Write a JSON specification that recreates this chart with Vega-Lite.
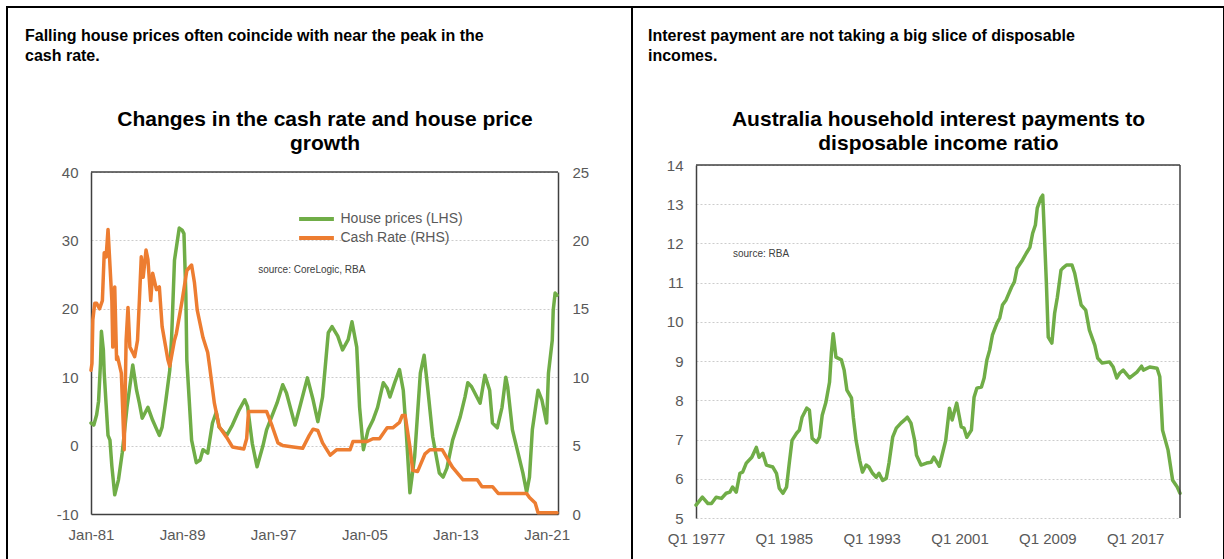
{
  "$schema": "https://vega.github.io/schema/vega-lite/v6.json",
  "padding": {"left": 6, "top": 6, "right": 0, "bottom": 0},
  "background": "white",
  "spacing": 0,
  "bounds": "flush",
  "config": {
    "font": "Liberation Sans",
    "view": {"stroke": "black", "strokeWidth": 2},
    "axis": {"labelFont": "Liberation Sans", "labelFontSize": 15, "labelColor": "#595959", "ticks": false, "grid": false, "domainColor": "#404040", "domainWidth": 1.5, "labelPadding": 12, "titleFont": "Liberation Sans"},
    "legend": {"labelFont": "Liberation Sans"}
  },
  "datasets": {
    "left": [
      {"date": "1981-01-01", "value": 3.3, "series": "House prices (LHS)"},
      {"date": "1981-04-01", "value": 3.0, "series": "House prices (LHS)"},
      {"date": "1981-07-01", "value": 4.5, "series": "House prices (LHS)"},
      {"date": "1981-09-01", "value": 6.5, "series": "House prices (LHS)"},
      {"date": "1981-11-01", "value": 12.0, "series": "House prices (LHS)"},
      {"date": "1981-12-01", "value": 16.7, "series": "House prices (LHS)"},
      {"date": "1982-02-01", "value": 14.0, "series": "House prices (LHS)"},
      {"date": "1982-03-01", "value": 10.6, "series": "House prices (LHS)"},
      {"date": "1982-05-01", "value": 6.0, "series": "House prices (LHS)"},
      {"date": "1982-07-01", "value": 1.5, "series": "House prices (LHS)"},
      {"date": "1982-09-01", "value": 0.8, "series": "House prices (LHS)"},
      {"date": "1982-11-01", "value": -3.0, "series": "House prices (LHS)"},
      {"date": "1983-02-01", "value": -7.2, "series": "House prices (LHS)"},
      {"date": "1983-06-01", "value": -5.0, "series": "House prices (LHS)"},
      {"date": "1983-10-01", "value": -1.0, "series": "House prices (LHS)"},
      {"date": "1984-03-01", "value": 5.6, "series": "House prices (LHS)"},
      {"date": "1984-09-01", "value": 11.8, "series": "House prices (LHS)"},
      {"date": "1985-01-01", "value": 8.1, "series": "House prices (LHS)"},
      {"date": "1985-04-01", "value": 6.2, "series": "House prices (LHS)"},
      {"date": "1985-07-01", "value": 4.0, "series": "House prices (LHS)"},
      {"date": "1986-01-01", "value": 5.6, "series": "House prices (LHS)"},
      {"date": "1986-06-01", "value": 3.7, "series": "House prices (LHS)"},
      {"date": "1987-01-01", "value": 1.5, "series": "House prices (LHS)"},
      {"date": "1987-04-01", "value": 2.7, "series": "House prices (LHS)"},
      {"date": "1987-08-01", "value": 6.7, "series": "House prices (LHS)"},
      {"date": "1987-12-01", "value": 11.0, "series": "House prices (LHS)"},
      {"date": "1988-02-01", "value": 16.0, "series": "House prices (LHS)"},
      {"date": "1988-05-01", "value": 27.1, "series": "House prices (LHS)"},
      {"date": "1988-10-01", "value": 31.8, "series": "House prices (LHS)"},
      {"date": "1989-01-01", "value": 31.5, "series": "House prices (LHS)"},
      {"date": "1989-03-01", "value": 31.0, "series": "House prices (LHS)"},
      {"date": "1989-05-01", "value": 22.0, "series": "House prices (LHS)"},
      {"date": "1989-06-01", "value": 12.5, "series": "House prices (LHS)"},
      {"date": "1989-11-01", "value": 0.8, "series": "House prices (LHS)"},
      {"date": "1990-04-01", "value": -2.5, "series": "House prices (LHS)"},
      {"date": "1990-08-01", "value": -2.1, "series": "House prices (LHS)"},
      {"date": "1990-11-01", "value": -0.6, "series": "House prices (LHS)"},
      {"date": "1991-04-01", "value": -1.1, "series": "House prices (LHS)"},
      {"date": "1991-09-01", "value": 3.3, "series": "House prices (LHS)"},
      {"date": "1992-01-01", "value": 4.9, "series": "House prices (LHS)"},
      {"date": "1992-04-01", "value": 2.7, "series": "House prices (LHS)"},
      {"date": "1992-12-01", "value": 1.5, "series": "House prices (LHS)"},
      {"date": "1993-06-01", "value": 3.0, "series": "House prices (LHS)"},
      {"date": "1994-01-01", "value": 5.2, "series": "House prices (LHS)"},
      {"date": "1994-07-01", "value": 6.7, "series": "House prices (LHS)"},
      {"date": "1994-10-01", "value": 5.7, "series": "House prices (LHS)"},
      {"date": "1995-03-01", "value": 0.3, "series": "House prices (LHS)"},
      {"date": "1995-08-01", "value": -3.1, "series": "House prices (LHS)"},
      {"date": "1996-02-01", "value": -0.1, "series": "House prices (LHS)"},
      {"date": "1996-06-01", "value": 2.3, "series": "House prices (LHS)"},
      {"date": "1997-05-01", "value": 6.2, "series": "House prices (LHS)"},
      {"date": "1997-11-01", "value": 8.9, "series": "House prices (LHS)"},
      {"date": "1998-03-01", "value": 7.7, "series": "House prices (LHS)"},
      {"date": "1998-12-01", "value": 3.0, "series": "House prices (LHS)"},
      {"date": "1999-05-01", "value": 5.6, "series": "House prices (LHS)"},
      {"date": "2000-01-01", "value": 9.9, "series": "House prices (LHS)"},
      {"date": "2000-07-01", "value": 6.7, "series": "House prices (LHS)"},
      {"date": "2000-12-01", "value": 3.5, "series": "House prices (LHS)"},
      {"date": "2001-05-01", "value": 7.1, "series": "House prices (LHS)"},
      {"date": "2001-11-01", "value": 16.5, "series": "House prices (LHS)"},
      {"date": "2002-03-01", "value": 17.4, "series": "House prices (LHS)"},
      {"date": "2002-09-01", "value": 16.0, "series": "House prices (LHS)"},
      {"date": "2003-02-01", "value": 14.0, "series": "House prices (LHS)"},
      {"date": "2003-08-01", "value": 15.5, "series": "House prices (LHS)"},
      {"date": "2003-12-01", "value": 18.1, "series": "House prices (LHS)"},
      {"date": "2004-05-01", "value": 14.4, "series": "House prices (LHS)"},
      {"date": "2004-08-01", "value": 5.6, "series": "House prices (LHS)"},
      {"date": "2004-12-01", "value": -0.6, "series": "House prices (LHS)"},
      {"date": "2005-05-01", "value": 2.3, "series": "House prices (LHS)"},
      {"date": "2005-10-01", "value": 3.7, "series": "House prices (LHS)"},
      {"date": "2006-03-01", "value": 5.6, "series": "House prices (LHS)"},
      {"date": "2006-09-01", "value": 9.2, "series": "House prices (LHS)"},
      {"date": "2007-01-01", "value": 8.4, "series": "House prices (LHS)"},
      {"date": "2007-04-01", "value": 7.1, "series": "House prices (LHS)"},
      {"date": "2007-09-01", "value": 9.2, "series": "House prices (LHS)"},
      {"date": "2008-02-01", "value": 11.1, "series": "House prices (LHS)"},
      {"date": "2008-06-01", "value": 8.1, "series": "House prices (LHS)"},
      {"date": "2008-09-01", "value": 2.3, "series": "House prices (LHS)"},
      {"date": "2009-01-01", "value": -6.9, "series": "House prices (LHS)"},
      {"date": "2009-06-01", "value": -1.6, "series": "House prices (LHS)"},
      {"date": "2009-12-01", "value": 10.6, "series": "House prices (LHS)"},
      {"date": "2010-04-01", "value": 13.2, "series": "House prices (LHS)"},
      {"date": "2010-08-01", "value": 8.1, "series": "House prices (LHS)"},
      {"date": "2011-01-01", "value": 1.3, "series": "House prices (LHS)"},
      {"date": "2011-08-01", "value": -4.0, "series": "House prices (LHS)"},
      {"date": "2011-12-01", "value": -4.6, "series": "House prices (LHS)"},
      {"date": "2012-04-01", "value": -3.3, "series": "House prices (LHS)"},
      {"date": "2012-10-01", "value": 0.8, "series": "House prices (LHS)"},
      {"date": "2013-06-01", "value": 4.2, "series": "House prices (LHS)"},
      {"date": "2013-11-01", "value": 7.1, "series": "House prices (LHS)"},
      {"date": "2014-02-01", "value": 9.2, "series": "House prices (LHS)"},
      {"date": "2014-06-01", "value": 8.6, "series": "House prices (LHS)"},
      {"date": "2015-03-01", "value": 6.2, "series": "House prices (LHS)"},
      {"date": "2015-08-01", "value": 10.3, "series": "House prices (LHS)"},
      {"date": "2016-01-01", "value": 8.1, "series": "House prices (LHS)"},
      {"date": "2016-04-01", "value": 3.3, "series": "House prices (LHS)"},
      {"date": "2016-09-01", "value": 2.6, "series": "House prices (LHS)"},
      {"date": "2017-02-01", "value": 5.6, "series": "House prices (LHS)"},
      {"date": "2017-06-01", "value": 10.0, "series": "House prices (LHS)"},
      {"date": "2017-08-01", "value": 8.6, "series": "House prices (LHS)"},
      {"date": "2018-01-01", "value": 2.3, "series": "House prices (LHS)"},
      {"date": "2018-07-01", "value": -1.1, "series": "House prices (LHS)"},
      {"date": "2018-12-01", "value": -4.0, "series": "House prices (LHS)"},
      {"date": "2019-04-01", "value": -6.8, "series": "House prices (LHS)"},
      {"date": "2019-07-01", "value": -4.6, "series": "House prices (LHS)"},
      {"date": "2019-10-01", "value": 2.3, "series": "House prices (LHS)"},
      {"date": "2020-04-01", "value": 8.1, "series": "House prices (LHS)"},
      {"date": "2020-08-01", "value": 6.7, "series": "House prices (LHS)"},
      {"date": "2021-01-01", "value": 3.3, "series": "House prices (LHS)"},
      {"date": "2021-03-01", "value": 10.6, "series": "House prices (LHS)"},
      {"date": "2021-07-01", "value": 15.4, "series": "House prices (LHS)"},
      {"date": "2021-08-01", "value": 19.8, "series": "House prices (LHS)"},
      {"date": "2021-10-01", "value": 22.3, "series": "House prices (LHS)"},
      {"date": "2021-12-01", "value": 22.0, "series": "House prices (LHS)"},
      {"date": "1981-01-01", "value": 10.5, "series": "Cash Rate (RHS)"},
      {"date": "1981-02-01", "value": 11.0, "series": "Cash Rate (RHS)"},
      {"date": "1981-03-01", "value": 14.2, "series": "Cash Rate (RHS)"},
      {"date": "1981-05-01", "value": 15.4, "series": "Cash Rate (RHS)"},
      {"date": "1981-07-01", "value": 15.4, "series": "Cash Rate (RHS)"},
      {"date": "1981-10-01", "value": 15.0, "series": "Cash Rate (RHS)"},
      {"date": "1982-01-01", "value": 15.6, "series": "Cash Rate (RHS)"},
      {"date": "1982-03-01", "value": 19.1, "series": "Cash Rate (RHS)"},
      {"date": "1982-05-01", "value": 18.8, "series": "Cash Rate (RHS)"},
      {"date": "1982-07-01", "value": 20.8, "series": "Cash Rate (RHS)"},
      {"date": "1982-11-01", "value": 15.6, "series": "Cash Rate (RHS)"},
      {"date": "1982-12-01", "value": 12.2, "series": "Cash Rate (RHS)"},
      {"date": "1983-02-01", "value": 16.6, "series": "Cash Rate (RHS)"},
      {"date": "1983-04-01", "value": 11.3, "series": "Cash Rate (RHS)"},
      {"date": "1983-05-01", "value": 11.5, "series": "Cash Rate (RHS)"},
      {"date": "1983-09-01", "value": 10.3, "series": "Cash Rate (RHS)"},
      {"date": "1983-12-01", "value": 4.7, "series": "Cash Rate (RHS)"},
      {"date": "1984-02-01", "value": 12.7, "series": "Cash Rate (RHS)"},
      {"date": "1984-04-01", "value": 15.1, "series": "Cash Rate (RHS)"},
      {"date": "1984-06-01", "value": 12.2, "series": "Cash Rate (RHS)"},
      {"date": "1984-09-01", "value": 11.8, "series": "Cash Rate (RHS)"},
      {"date": "1984-11-01", "value": 11.5, "series": "Cash Rate (RHS)"},
      {"date": "1985-02-01", "value": 12.7, "series": "Cash Rate (RHS)"},
      {"date": "1985-04-01", "value": 15.6, "series": "Cash Rate (RHS)"},
      {"date": "1985-06-01", "value": 18.8, "series": "Cash Rate (RHS)"},
      {"date": "1985-08-01", "value": 17.3, "series": "Cash Rate (RHS)"},
      {"date": "1985-11-01", "value": 19.3, "series": "Cash Rate (RHS)"},
      {"date": "1986-01-01", "value": 18.6, "series": "Cash Rate (RHS)"},
      {"date": "1986-04-01", "value": 15.6, "series": "Cash Rate (RHS)"},
      {"date": "1986-06-01", "value": 17.6, "series": "Cash Rate (RHS)"},
      {"date": "1986-10-01", "value": 16.4, "series": "Cash Rate (RHS)"},
      {"date": "1987-01-01", "value": 16.6, "series": "Cash Rate (RHS)"},
      {"date": "1987-04-01", "value": 13.7, "series": "Cash Rate (RHS)"},
      {"date": "1987-10-01", "value": 11.3, "series": "Cash Rate (RHS)"},
      {"date": "1987-12-01", "value": 10.8, "series": "Cash Rate (RHS)"},
      {"date": "1988-05-01", "value": 12.7, "series": "Cash Rate (RHS)"},
      {"date": "1988-07-01", "value": 13.2, "series": "Cash Rate (RHS)"},
      {"date": "1989-01-01", "value": 15.6, "series": "Cash Rate (RHS)"},
      {"date": "1989-06-01", "value": 17.8, "series": "Cash Rate (RHS)"},
      {"date": "1989-11-01", "value": 18.2, "series": "Cash Rate (RHS)"},
      {"date": "1990-02-01", "value": 16.9, "series": "Cash Rate (RHS)"},
      {"date": "1990-05-01", "value": 14.9, "series": "Cash Rate (RHS)"},
      {"date": "1990-11-01", "value": 12.9, "series": "Cash Rate (RHS)"},
      {"date": "1991-04-01", "value": 11.8, "series": "Cash Rate (RHS)"},
      {"date": "1991-06-01", "value": 10.8, "series": "Cash Rate (RHS)"},
      {"date": "1991-11-01", "value": 8.1, "series": "Cash Rate (RHS)"},
      {"date": "1992-04-01", "value": 6.4, "series": "Cash Rate (RHS)"},
      {"date": "1992-12-01", "value": 5.6, "series": "Cash Rate (RHS)"},
      {"date": "1993-06-01", "value": 4.9, "series": "Cash Rate (RHS)"},
      {"date": "1994-06-01", "value": 4.75, "series": "Cash Rate (RHS)"},
      {"date": "1994-09-01", "value": 5.5, "series": "Cash Rate (RHS)"},
      {"date": "1994-11-01", "value": 7.5, "series": "Cash Rate (RHS)"},
      {"date": "1996-06-01", "value": 7.5, "series": "Cash Rate (RHS)"},
      {"date": "1996-12-01", "value": 6.4, "series": "Cash Rate (RHS)"},
      {"date": "1997-06-01", "value": 5.2, "series": "Cash Rate (RHS)"},
      {"date": "1997-11-01", "value": 5.0, "series": "Cash Rate (RHS)"},
      {"date": "1998-10-01", "value": 4.9, "series": "Cash Rate (RHS)"},
      {"date": "1999-08-01", "value": 4.8, "series": "Cash Rate (RHS)"},
      {"date": "2000-03-01", "value": 5.75, "series": "Cash Rate (RHS)"},
      {"date": "2000-07-01", "value": 6.2, "series": "Cash Rate (RHS)"},
      {"date": "2000-12-01", "value": 6.1, "series": "Cash Rate (RHS)"},
      {"date": "2001-05-01", "value": 5.2, "series": "Cash Rate (RHS)"},
      {"date": "2002-01-01", "value": 4.3, "series": "Cash Rate (RHS)"},
      {"date": "2002-08-01", "value": 4.7, "series": "Cash Rate (RHS)"},
      {"date": "2003-10-01", "value": 4.7, "series": "Cash Rate (RHS)"},
      {"date": "2004-01-01", "value": 5.3, "series": "Cash Rate (RHS)"},
      {"date": "2005-04-01", "value": 5.3, "series": "Cash Rate (RHS)"},
      {"date": "2005-10-01", "value": 5.5, "series": "Cash Rate (RHS)"},
      {"date": "2006-05-01", "value": 5.5, "series": "Cash Rate (RHS)"},
      {"date": "2007-01-01", "value": 6.3, "series": "Cash Rate (RHS)"},
      {"date": "2007-07-01", "value": 6.3, "series": "Cash Rate (RHS)"},
      {"date": "2008-02-01", "value": 6.7, "series": "Cash Rate (RHS)"},
      {"date": "2008-05-01", "value": 7.2, "series": "Cash Rate (RHS)"},
      {"date": "2008-08-01", "value": 7.2, "series": "Cash Rate (RHS)"},
      {"date": "2009-01-01", "value": 4.9, "series": "Cash Rate (RHS)"},
      {"date": "2009-04-01", "value": 3.2, "series": "Cash Rate (RHS)"},
      {"date": "2009-09-01", "value": 3.1, "series": "Cash Rate (RHS)"},
      {"date": "2010-05-01", "value": 4.4, "series": "Cash Rate (RHS)"},
      {"date": "2010-10-01", "value": 4.7, "series": "Cash Rate (RHS)"},
      {"date": "2011-11-01", "value": 4.7, "series": "Cash Rate (RHS)"},
      {"date": "2012-04-01", "value": 4.1, "series": "Cash Rate (RHS)"},
      {"date": "2012-10-01", "value": 3.4, "series": "Cash Rate (RHS)"},
      {"date": "2013-09-01", "value": 2.5, "series": "Cash Rate (RHS)"},
      {"date": "2014-12-01", "value": 2.5, "series": "Cash Rate (RHS)"},
      {"date": "2015-05-01", "value": 2.0, "series": "Cash Rate (RHS)"},
      {"date": "2016-04-01", "value": 2.0, "series": "Cash Rate (RHS)"},
      {"date": "2016-10-01", "value": 1.5, "series": "Cash Rate (RHS)"},
      {"date": "2019-04-01", "value": 1.5, "series": "Cash Rate (RHS)"},
      {"date": "2019-07-01", "value": 1.2, "series": "Cash Rate (RHS)"},
      {"date": "2020-01-01", "value": 0.8, "series": "Cash Rate (RHS)"},
      {"date": "2020-04-01", "value": 0.1, "series": "Cash Rate (RHS)"},
      {"date": "2021-12-01", "value": 0.1, "series": "Cash Rate (RHS)"}
    ],
    "ratio": [
      {"date": "1977-01-01", "value": 5.33}, {"date": "1977-08-01", "value": 5.53}, {"date": "1978-02-01", "value": 5.37},
      {"date": "1978-06-01", "value": 5.37}, {"date": "1978-11-01", "value": 5.53}, {"date": "1979-05-01", "value": 5.5},
      {"date": "1979-10-01", "value": 5.63}, {"date": "1980-02-01", "value": 5.66}, {"date": "1980-05-01", "value": 5.79},
      {"date": "1980-09-01", "value": 5.66}, {"date": "1981-01-01", "value": 6.14}, {"date": "1981-04-01", "value": 6.17},
      {"date": "1981-08-01", "value": 6.4}, {"date": "1982-02-01", "value": 6.55}, {"date": "1982-07-01", "value": 6.8},
      {"date": "1982-10-01", "value": 6.55}, {"date": "1983-02-01", "value": 6.65}, {"date": "1983-06-01", "value": 6.35},
      {"date": "1984-01-01", "value": 6.3}, {"date": "1984-05-01", "value": 6.14}, {"date": "1984-08-01", "value": 5.76},
      {"date": "1984-12-01", "value": 5.63}, {"date": "1985-04-01", "value": 5.79}, {"date": "1985-07-01", "value": 6.4},
      {"date": "1985-10-01", "value": 6.98}, {"date": "1986-03-01", "value": 7.16}, {"date": "1986-06-01", "value": 7.24},
      {"date": "1986-09-01", "value": 7.57}, {"date": "1987-02-01", "value": 7.8}, {"date": "1987-05-01", "value": 7.75},
      {"date": "1987-08-01", "value": 7.03}, {"date": "1988-01-01", "value": 6.93}, {"date": "1988-04-01", "value": 7.06},
      {"date": "1988-07-01", "value": 7.62}, {"date": "1988-11-01", "value": 7.95}, {"date": "1989-03-01", "value": 8.46},
      {"date": "1989-05-01", "value": 9.2}, {"date": "1989-07-01", "value": 9.7}, {"date": "1989-10-01", "value": 9.1},
      {"date": "1990-04-01", "value": 9.03}, {"date": "1990-07-01", "value": 8.77}, {"date": "1990-10-01", "value": 8.26},
      {"date": "1991-03-01", "value": 8.06}, {"date": "1991-05-01", "value": 7.57}, {"date": "1991-08-01", "value": 6.98},
      {"date": "1991-12-01", "value": 6.47}, {"date": "1992-03-01", "value": 6.17}, {"date": "1992-07-01", "value": 6.35},
      {"date": "1992-10-01", "value": 6.3}, {"date": "1993-02-01", "value": 6.14}, {"date": "1993-06-01", "value": 6.04},
      {"date": "1993-09-01", "value": 6.14}, {"date": "1994-01-01", "value": 5.96}, {"date": "1994-05-01", "value": 6.01},
      {"date": "1994-08-01", "value": 6.4}, {"date": "1994-12-01", "value": 7.06}, {"date": "1995-04-01", "value": 7.29},
      {"date": "1995-09-01", "value": 7.42}, {"date": "1996-01-01", "value": 7.5}, {"date": "1996-04-01", "value": 7.57},
      {"date": "1996-08-01", "value": 7.42}, {"date": "1996-12-01", "value": 6.98}, {"date": "1997-02-01", "value": 6.6},
      {"date": "1997-07-01", "value": 6.35}, {"date": "1998-01-01", "value": 6.4}, {"date": "1998-06-01", "value": 6.42},
      {"date": "1998-09-01", "value": 6.55}, {"date": "1999-03-01", "value": 6.32}, {"date": "1999-06-01", "value": 6.6},
      {"date": "1999-10-01", "value": 6.98}, {"date": "2000-02-01", "value": 7.8}, {"date": "2000-05-01", "value": 7.5},
      {"date": "2000-10-01", "value": 7.93}, {"date": "2001-03-01", "value": 7.32}, {"date": "2001-06-01", "value": 7.29},
      {"date": "2001-09-01", "value": 7.06}, {"date": "2002-02-01", "value": 7.24}, {"date": "2002-05-01", "value": 8.08},
      {"date": "2002-08-01", "value": 8.31}, {"date": "2003-01-01", "value": 8.34}, {"date": "2003-04-01", "value": 8.57},
      {"date": "2003-07-01", "value": 9.03}, {"date": "2003-10-01", "value": 9.28}, {"date": "2004-01-01", "value": 9.66},
      {"date": "2004-06-01", "value": 9.97}, {"date": "2004-09-01", "value": 10.1}, {"date": "2004-12-01", "value": 10.43},
      {"date": "2005-04-01", "value": 10.56}, {"date": "2005-10-01", "value": 10.89}, {"date": "2006-01-01", "value": 11.02},
      {"date": "2006-04-01", "value": 11.37}, {"date": "2006-10-01", "value": 11.58}, {"date": "2007-02-01", "value": 11.75},
      {"date": "2007-06-01", "value": 11.9}, {"date": "2007-09-01", "value": 12.26}, {"date": "2007-12-01", "value": 12.47},
      {"date": "2008-02-01", "value": 12.9}, {"date": "2008-06-01", "value": 13.16}, {"date": "2008-08-01", "value": 13.23},
      {"date": "2008-09-01", "value": 12.67}, {"date": "2008-12-01", "value": 10.99}, {"date": "2009-02-01", "value": 9.61},
      {"date": "2009-06-01", "value": 9.46}, {"date": "2009-09-01", "value": 10.22}, {"date": "2009-12-01", "value": 10.63},
      {"date": "2010-04-01", "value": 11.32}, {"date": "2010-06-01", "value": 11.37}, {"date": "2010-10-01", "value": 11.45},
      {"date": "2011-04-01", "value": 11.45}, {"date": "2011-07-01", "value": 11.24}, {"date": "2011-10-01", "value": 10.89},
      {"date": "2012-02-01", "value": 10.43}, {"date": "2012-07-01", "value": 10.3}, {"date": "2012-11-01", "value": 9.79},
      {"date": "2013-05-01", "value": 9.4}, {"date": "2013-08-01", "value": 9.08}, {"date": "2014-01-01", "value": 8.95},
      {"date": "2014-09-01", "value": 8.98}, {"date": "2015-01-01", "value": 8.85}, {"date": "2015-05-01", "value": 8.57},
      {"date": "2015-08-01", "value": 8.69}, {"date": "2015-12-01", "value": 8.77}, {"date": "2016-07-01", "value": 8.57},
      {"date": "2017-03-01", "value": 8.72}, {"date": "2017-08-01", "value": 8.87}, {"date": "2017-10-01", "value": 8.77},
      {"date": "2018-05-01", "value": 8.85}, {"date": "2019-01-01", "value": 8.82}, {"date": "2019-04-01", "value": 8.6},
      {"date": "2019-07-01", "value": 7.24}, {"date": "2020-01-01", "value": 6.73}, {"date": "2020-06-01", "value": 5.96},
      {"date": "2020-11-01", "value": 5.79}, {"date": "2021-02-01", "value": 5.63}
    ]
  },
  "hconcat": [
    {
      "width": 625,
      "height": 553,
      "title": {
        "text": ["Falling house prices often coincide with near the peak in the", "cash rate."],
        "anchor": "start", "frame": "group", "fontSize": 16, "fontWeight": "bold", "color": "black",
        "font": "Liberation Sans", "lineHeight": 20, "offset": -57, "dx": 18
      },
      "layer": [
        {
          "layer": [
            {
              "data": {"name": "left"},
              "transform": [{"filter": "datum.series === 'House prices (LHS)'"}],
              "mark": {"type": "line", "strokeWidth": 3.5, "strokeJoin": "round", "strokeCap": "round"},
              "encoding": {
                "x": {
                  "field": "date", "type": "temporal",
                  "scale": {"domain": [{"year": 1981, "month": 1, "date": 1, "utc": true}, {"year": 2022, "month": 1, "date": 1, "utc": true}], "range": [84, 551], "nice": false},
                  "axis": {
                    "values": [{"year": 1981, "month": 1, "date": 1, "utc": true}, {"year": 1989, "month": 1, "date": 1, "utc": true}, {"year": 1997, "month": 1, "date": 1, "utc": true}, {"year": 2005, "month": 1, "date": 1, "utc": true}, {"year": 2013, "month": 1, "date": 1, "utc": true}, {"year": 2021, "month": 1, "date": 1, "utc": true}],
                    "labelExpr": "'Jan-' + utcFormat(datum.value, '%y')",
                    "offset": -46, "labelPadding": 13, "labelFlush": false, "labelOverlap": false,
                    "title": ["Changes in the cash rate and house price", "growth"],
                    "titleX": 317.5, "titleY": -389, "titleAlign": "center", "titleAnchor": "middle", "titleBaseline": "alphabetic", "titleAngle": 0,
                    "titleFontSize": 21, "titleFontWeight": "bold", "titleColor": "black", "titleLineHeight": 24
                  }
                },
                "y": {
                  "field": "value", "type": "quantitative",
                  "scale": {"domain": [-10, 40], "range": [507, 165], "nice": false, "zero": false},
                  "axis": {"orient": "left", "offset": -84, "values": [-10, 0, 10, 20, 30, 40], "labelExpr": "datum.value + ''", "grid": true, "gridColor": "#cccccc", "gridDash": [2, 2], "gridWidth": 1, "labelPadding": 13, "title": null}
                },
                "color": {
                  "field": "series", "type": "nominal",
                  "scale": {"domain": ["House prices (LHS)", "Cash Rate (RHS)"], "range": ["#70AD47", "#ED7D31"]},
                  "legend": {"orient": "none", "legendX": 301.5, "legendY": 204, "title": null, "symbolType": "M-2.9,0H2.9", "symbolSize": 144, "symbolStrokeWidth": 4, "symbolFillColor": "transparent", "labelFontSize": 14, "labelColor": "#595959", "labelOffset": 16, "rowPadding": 3, "padding": 0}
                }
              }
            },
            {
              "data": {"values": [{}]},
              "mark": {"type": "rule", "color": "#404040", "strokeWidth": 1.5},
              "encoding": {
                "x": {"datum": {"year": 1981, "month": 1, "date": 1, "utc": true}, "type": "temporal"},
                "x2": {"datum": {"year": 2022, "month": 1, "date": 1, "utc": true}},
                "y": {"datum": 40, "type": "quantitative"}
              }
            },
            {
              "data": {"values": [{}]},
              "mark": {"type": "text", "align": "left", "baseline": "middle", "fontSize": 10, "color": "#404040", "font": "Liberation Sans"},
              "encoding": {
                "x": {"datum": {"year": 1995, "month": 9, "date": 5, "utc": true}, "type": "temporal"},
                "y": {"datum": 25.7, "type": "quantitative"},
                "text": {"value": "source:  CoreLogic, RBA"}
              }
            }
          ]
        },
        {
          "data": {"name": "left"},
          "transform": [{"filter": "datum.series === 'Cash Rate (RHS)'"}],
          "mark": {"type": "line", "strokeWidth": 3.5, "strokeJoin": "round", "strokeCap": "round"},
          "encoding": {
            "x": {"field": "date", "type": "temporal"},
            "y": {
              "field": "value", "type": "quantitative",
              "scale": {"domain": [0, 25], "range": [507, 165], "nice": false, "zero": false},
              "axis": {"orient": "right", "offset": -74, "values": [0, 5, 10, 15, 20, 25], "labelExpr": "datum.value + ''", "grid": false, "labelPadding": 14, "title": null}
            },
            "color": {
              "field": "series", "type": "nominal",
              "scale": {"domain": ["House prices (LHS)", "Cash Rate (RHS)"], "range": ["#70AD47", "#ED7D31"]},
              "legend": {"orient": "none", "legendX": 301.5, "legendY": 204, "title": null, "symbolType": "M-2.9,0H2.9", "symbolSize": 144, "symbolStrokeWidth": 4, "symbolFillColor": "transparent", "labelFontSize": 14, "labelColor": "#595959", "labelOffset": 16, "rowPadding": 3, "padding": 0}
            }
          }
        }
      ],
      "resolve": {"scale": {"y": "independent"}, "axis": {"y": "independent"}}
    },
    {
      "width": 592,
      "height": 553,
      "title": {
        "text": ["Interest payment are not taking a big slice of disposable", "incomes."],
        "anchor": "start", "frame": "group", "fontSize": 16, "fontWeight": "bold", "color": "black",
        "font": "Liberation Sans", "lineHeight": 20, "offset": -57, "dx": 16
      },
      "layer": [
        {
          "data": {"name": "ratio"},
          "mark": {"type": "line", "color": "#70AD47", "strokeWidth": 3.5, "strokeJoin": "round", "strokeCap": "round"},
          "encoding": {
            "x": {
              "field": "date", "type": "temporal",
              "scale": {"domain": [{"year": 1977, "month": 1, "date": 1, "utc": true}, {"year": 2021, "month": 2, "date": 1, "utc": true}], "range": [64, 548], "nice": false},
              "axis": {
                "values": [{"year": 1977, "month": 1, "date": 1, "utc": true}, {"year": 1985, "month": 1, "date": 1, "utc": true}, {"year": 1993, "month": 1, "date": 1, "utc": true}, {"year": 2001, "month": 1, "date": 1, "utc": true}, {"year": 2009, "month": 1, "date": 1, "utc": true}, {"year": 2017, "month": 1, "date": 1, "utc": true}],
                "labelExpr": "'Q1 ' + utcFormat(datum.value, '%Y')",
                "offset": -42, "domain": false, "labelPadding": 13, "labelFlush": false, "labelOverlap": false,
                "title": ["Australia household interest payments to", "disposable income ratio"],
                "titleX": 306, "titleY": -393, "titleAlign": "center", "titleAnchor": "middle", "titleBaseline": "alphabetic", "titleAngle": 0,
                "titleFontSize": 21, "titleFontWeight": "bold", "titleColor": "black", "titleLineHeight": 24
              }
            },
            "y": {
              "field": "value", "type": "quantitative",
              "scale": {"domain": [5, 14], "range": [511, 158], "nice": false, "zero": false},
              "axis": {"orient": "left", "offset": -64, "values": [5, 6, 7, 8, 9, 10, 11, 12, 13, 14], "labelExpr": "datum.value + ''", "grid": true, "gridColor": "#cccccc", "gridDash": [2, 2], "gridWidth": 1, "labelPadding": 13, "title": null}
            }
          }
        },
        {
          "data": {"values": [{}]},
          "mark": {"type": "rule", "color": "#404040", "strokeWidth": 1.5},
          "encoding": {
            "x": {"datum": {"year": 1977, "month": 1, "date": 1, "utc": true}, "type": "temporal"},
            "x2": {"datum": {"year": 2021, "month": 2, "date": 1, "utc": true}},
            "y": {"datum": 14, "type": "quantitative"}
          }
        },
        {
          "data": {"values": [{}]},
          "mark": {"type": "rule", "color": "#404040", "strokeWidth": 1.5},
          "encoding": {
            "x": {"datum": {"year": 2021, "month": 2, "date": 1, "utc": true}, "type": "temporal"},
            "y": {"datum": 5, "type": "quantitative"},
            "y2": {"datum": 14}
          }
        },
        {
          "data": {"values": [{}]},
          "mark": {"type": "text", "align": "left", "baseline": "middle", "fontSize": 10, "color": "#404040", "font": "Liberation Sans"},
          "encoding": {
            "x": {"datum": {"year": 1980, "month": 5, "date": 15, "utc": true}, "type": "temporal"},
            "y": {"datum": 11.73, "type": "quantitative"},
            "text": {"value": "source:  RBA"}
          }
        }
      ]
    }
  ]
}
